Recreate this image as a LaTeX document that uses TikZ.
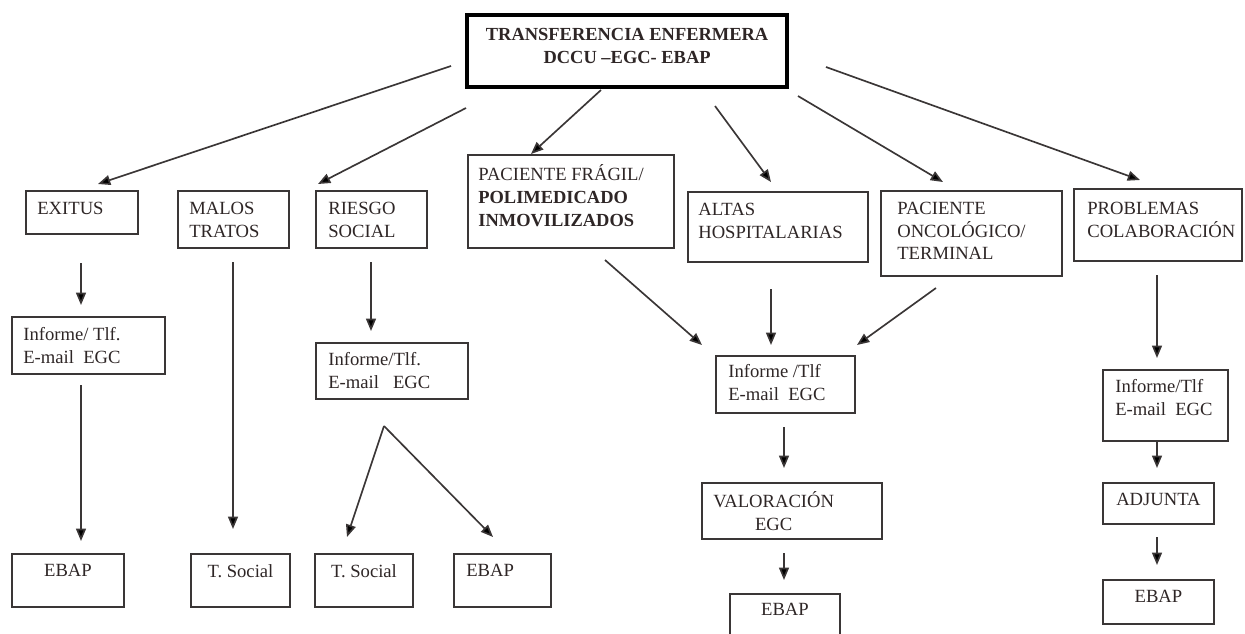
\documentclass[tikz,border=0pt]{standalone}
\usepackage{fontspec}
\setmainfont{Liberation Serif}
\usepackage{xcolor}
\usetikzlibrary{positioning, arrows.meta, calc}

\definecolor{ink}{HTML}{2E2626}
\definecolor{edge}{HTML}{3A3636}
\newcommand{\pu}{0.02cm}
\newcommand{\tnorm}{\fontsize{10.6}{13}\selectfont}
\newcommand{\tbold}{\fontsize{10.5}{13}\selectfont\bfseries}

\begin{document}
\begin{tikzpicture}[
  x=0.02cm, y=-0.02cm,
  box/.style 2 args={draw=edge, line width=1.1pt, anchor=north west, inner sep=0pt,
    minimum width=#1*\pu, minimum height=#2*\pu},
  hbox/.style 2 args={box={#1}{#2}, draw=black, line width=2.4pt},
  txt/.style={inner sep=0pt, align=left, font=\tnorm, text=ink},
  arr/.style={-{Triangle[length=7pt, width=5.6pt, fill=black]}, draw=edge, line width=0.95pt}
]
  \useasboundingbox (0,0) rectangle (1245,633);

  % top box
  \node[hbox={320}{72}] (top) at (465,13) {};
  \node[txt, align=center, font=\tbold, below=0.3cm of top.north] (top-t)
    {TRANSFERENCIA ENFERMERA\\DCCU --EGC- EBAP};

  % first row
  \node[box={112}{43}] (exitus) at (25,190) {};
  \node[txt, below right=0.23cm and 0.24cm of exitus.north west] (exitus-t) {EXITUS};
  \node[box={111}{57}] (malos) at (177,190) {};
  \node[txt, below right=0.23cm and 0.24cm of malos.north west] (malos-t) {MALOS\\TRATOS};
  \node[box={111}{57}] (riesgo) at (315,190) {};
  \node[txt, below right=0.23cm and 0.26cm of riesgo.north west] (riesgo-t) {RIESGO\\SOCIAL};
  \node[box={206}{93}] (fragil) at (467,154) {};
  \node[txt, below right=0.2cm and 0.22cm of fragil.north west] (fragil-t)
    {PACIENTE FRÁGIL/\\{\tbold POLIMEDICADO}\\{\tbold INMOVILIZADOS}};
  \node[box={180}{70}] (altas) at (687,191) {};
  \node[txt, below right=0.23cm and 0.22cm of altas.north west] (altas-t) {ALTAS\\HOSPITALARIAS};
  \node[box={181}{85}] (onco) at (880,190) {};
  \node[txt, below right=0.23cm and 0.34cm of onco.north west] (onco-t)
    {PACIENTE\\ONCOLÓGICO/\\TERMINAL};
  \node[box={168}{72}] (probl) at (1073,188) {};
  \node[txt, below right=0.27cm and 0.28cm of probl.north west] (probl-t)
    {PROBLEMAS\\COLABORACIÓN};

  % informe boxes
  \node[box={153}{57}] (inf1) at (11,316) {};
  \node[txt, below right=0.22cm and 0.24cm of inf1.north west] (inf1-t) {Informe/ Tlf.\\E-mail\ \ EGC};
  \node[box={152}{56}] (inf2) at (315,342) {};
  \node[txt, below right=0.2cm and 0.26cm of inf2.north west] (inf2-t) {Informe/Tlf.\\E-mail\ \ \ EGC};
  \node[box={139}{57}] (infm) at (715,355) {};
  \node[txt, below right=0.19cm and 0.26cm of infm.north west] (infm-t) {Informe /Tlf\\E-mail\ \ EGC};
  \node[box={125}{71}] (infr) at (1102,369) {};
  \node[txt, below right=0.2cm and 0.26cm of infr.north west] (infr-t) {Informe/Tlf\\E-mail\ \ EGC};

  % lower boxes
  \node[box={180}{56}] (valor) at (701,482) {};
  \node[txt, align=center, below right=0.19cm and 0.24cm of valor.north west] (valor-t) {VALORACIÓN\\EGC};
  \node[box={110}{47}] (ebapm) at (729,593) {};
  \node[txt, below=0.2cm of ebapm.north] (ebapm-t) {EBAP};
  \node[box={111}{41}] (adj) at (1102,482) {};
  \node[txt, below=0.21cm of adj.north] (adj-t) {ADJUNTA};
  \node[box={111}{44}] (ebapr) at (1102,579) {};
  \node[txt, below=0.21cm of ebapr.north] (ebapr-t) {EBAP};

  % bottom row
  \node[box={112}{53}] (ebap1) at (11,553) {};
  \node[txt, below=0.22cm of ebap1.north] (ebap1-t) {EBAP};
  \node[box={99}{53}] (tsoc1) at (190,553) {};
  \node[txt, below=0.22cm of tsoc1.north] (tsoc1-t) {T. Social};
  \node[box={98}{53}] (tsoc2) at (314,553) {};
  \node[txt, below=0.22cm of tsoc2.north] (tsoc2-t) {T. Social};
  \node[box={97}{53}] (ebap2) at (453,553) {};
  \node[txt, below right=0.22cm and 0.26cm of ebap2.north west] (ebap2-t) {EBAP};

  % arrow ends
  \coordinate (t1) at (451,66);   \coordinate (h1) at (98,184);
  \coordinate (t2) at (466,108);  \coordinate (h2) at (318,184);
  \coordinate (t3) at (601,90);   \coordinate (h3) at (531,154);
  \coordinate (t4) at (715,106);  \coordinate (h4) at (771,182);
  \coordinate (t5) at (798,96);   \coordinate (h5) at (943,182);
  \coordinate (t6) at (826,67);   \coordinate (h6) at (1140,180);
  \coordinate (split) at (384,426);

  \draw[arr] (t1) -- (h1);
  \draw[arr] (t2) -- (h2);
  \draw[arr] (t3) -- (h3);
  \draw[arr] (t4) -- (h4);
  \draw[arr] (t5) -- (h5);
  \draw[arr] (t6) -- (h6);

  % columns
  \draw[arr] (81,263) -- (81,305);
  \draw[arr] (81,385) -- (81,541);
  \draw[arr] (233,262) -- (233,529);
  \draw[arr] (371,262) -- (371,331);
  \draw[arr] (split) -- (347,537);
  \draw[arr] (split) -- (493,537);
  \draw[arr] (605,260) -- (702,345);
  \draw[arr] (771,289) -- (771,345);
  \draw[arr] (936,288) -- (857,345);
  \draw[arr] (784,427) -- (784,468);
  \draw[arr] (784,553) -- (784,580);
  \draw[arr] (1157,275) -- (1157,358);
  \draw[arr] (1157,441) -- (1157,468);
  \draw[arr] (1157,537) -- (1157,565);
\end{tikzpicture}
\end{document}
